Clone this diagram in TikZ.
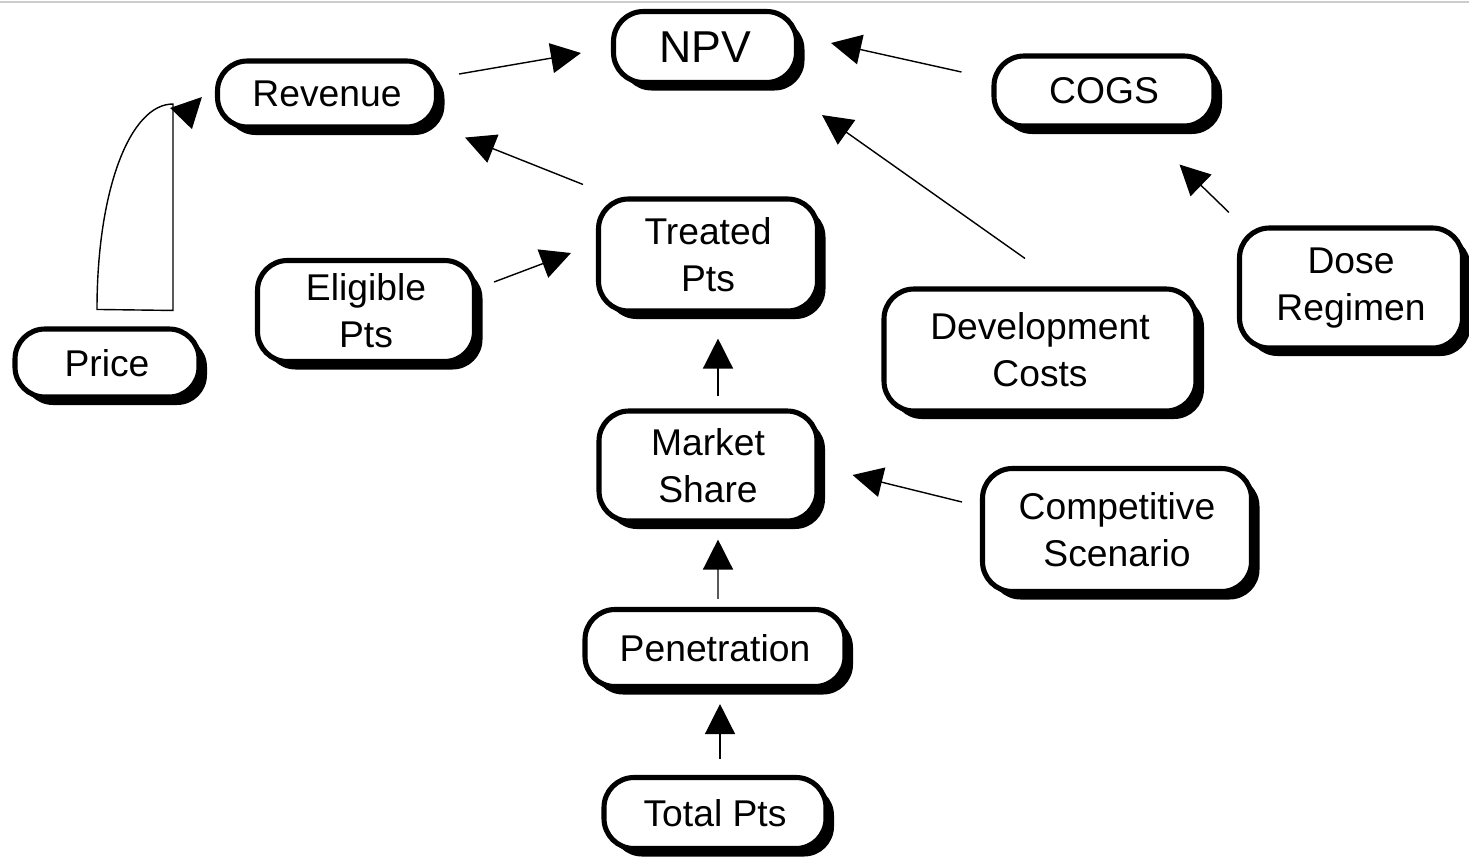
\documentclass[tikz,border=0pt]{standalone}
\usepackage{fontspec}
\setmainfont{Liberation Sans}
\usepackage{tikz}
\usetikzlibrary{calc,shadows,arrows.meta}

\begin{document}
\begin{tikzpicture}[
        block/.style={
            draw,
            line width=1.45pt,
            rounded corners=0.3cm,
            fill=white,
            inner sep=0pt,
            align=center,
            font=\fontsize{10.6}{13.4}\selectfont,
            drop shadow={shadow xshift=0.08cm, shadow yshift=-0.08cm, fill=black, opacity=1}
        },
        arrow/.style={
            -{Triangle[length=0.3cm, width=0.3cm]},
            line width=0.4pt
        }
    ]
    \useasboundingbox (0,0) rectangle (14.69,8.56);
    \draw[gray!40, line width=0.6pt] (0,8.54) -- (14.69,8.54);

    \node[block, minimum width=1.83cm, minimum height=0.71cm, font=\fontsize{12.7}{15}\selectfont] (npv) at (7.05, 8.09) {NPV};
    \node[block, minimum width=2.19cm, minimum height=0.66cm] (revenue) at (3.27, 7.62) {Revenue};
    \node[block, minimum width=2.20cm, minimum height=0.70cm] (cogs) at (11.04, 7.65) {COGS};
    \node[block, minimum width=1.84cm, minimum height=0.68cm] (price) at (1.07, 4.93) {Price};
    \node[block, minimum width=2.17cm, minimum height=1.01cm] (eligible) at (3.66, 5.45) {Eligible\\Pts};
    \node[block, minimum width=2.19cm, minimum height=1.12cm] (treated) at (7.08, 6.01) {Treated\\Pts};
    \node[block, minimum width=3.12cm, minimum height=1.22cm] (devcosts) at (10.40, 5.06) {Development\\Costs};
    \node[block, minimum width=2.23cm, minimum height=1.20cm] (dose) at (13.51, 5.68) {Dose\\Regimen};
    \node[block, minimum width=2.18cm, minimum height=1.10cm] (share) at (7.08, 3.90) {Market\\Share};
    \node[block, minimum width=2.69cm, minimum height=1.23cm] (competitive) at (11.17, 3.26) {Competitive\\Scenario};
    \node[block, minimum width=2.60cm, minimum height=0.77cm] (penetration) at (7.15, 2.08) {Penetration};
    \node[block, minimum width=2.22cm, minimum height=0.71cm] (total) at (7.15, 0.43) {Total Pts};

    \draw[arrow] ($(revenue.east)+(0.20,0.20)$) -- ($(npv.west)+(-0.30,-0.06)$);
    \draw[arrow] ($(cogs.west)+(-0.30,0.19)$) -- ($(npv.east)+(0.32,0.04)$);
    \draw[arrow] ($(devcosts.north)+(-0.15,0.28)$) -- ($(npv.south east)+(0.23,-0.30)$);
    \draw[arrow] ($(treated.north west)+(-0.13,0.12)$) -- ($(revenue.south east)+(0.26,-0.08)$);
    \draw[arrow] ($(eligible.east)+(0.17,0.29)$) -- ($(treated.west)+(-0.25,0.02)$);
    \draw[arrow] ($(share.north)+(0.10,0.12)$) -- ($(treated.south)+(0.10,-0.25)$);
    \draw[arrow] ($(penetration.north)+(0.03,0.08)$) -- ($(share.south)+(0.10,-0.16)$);
    \draw[arrow] ($(total.north)+(0.05,0.16)$) -- ($(penetration.south)+(0.05,-0.15)$);
    \draw[arrow] ($(competitive.west)+(-0.18,0.28)$) -- ($(share.east)+(0.33,-0.09)$);
    \draw[arrow] ($(dose.north west)+(-0.08,0.13)$) -- ($(cogs.south east)+(-0.37,-0.36)$);

    % price feeds revenue through a loop
    \coordinate (hookstart) at ($(price.north)+(-0.10,0.17)$);
    \coordinate (hookend) at (1.73,7.52);
    \coordinate (hookfoot) at ($(price.north)+(0.66,0.16)$);
    \draw[line width=0.4pt] (hookstart) .. controls (0.97,6.66) and (1.30,7.52) .. (hookend) -- (hookfoot) -- cycle;
    \draw[arrow] ($(hookend)+(0.105,-0.12)$) -- ($(revenue.west)+(-0.13,-0.03)$);

\end{tikzpicture}
\end{document}
